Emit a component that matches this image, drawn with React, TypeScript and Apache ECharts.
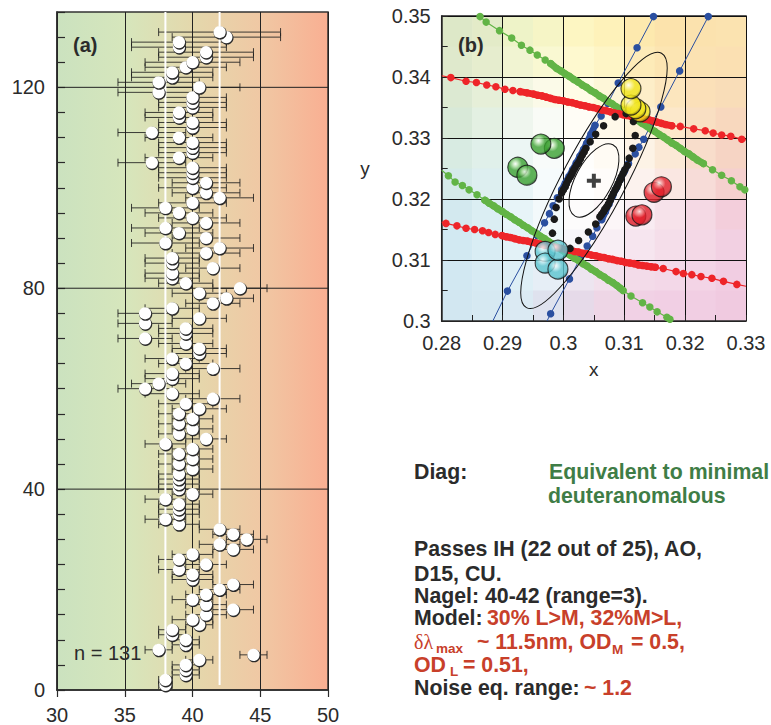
import React, { useEffect, useRef } from "react";
import * as echarts from "echarts";

const FONT = '"Liberation Sans", Arial, sans-serif';
const INK = "#2b2b2b";
const RED_TEXT = "#c8402a";
const GREEN_TEXT = "#3f7d46";

// ---------- panel (a) ----------
// rank 1..131 runs from the bottom row to the top row
const nagelMid = [
  38, 38, 39.5, 39.5, 39.5, 40.5, 44.5, 37.5, 39.5, 39.5,
  38.5, 38.5, 40.5, 40, 41, 43, 41, 40, 41, 42,
  43, 40, 40, 39, 41, 39, 40, 43, 42, 44,
  43, 42, 39, 38, 39, 39, 39, 38, 40, 39,
  39, 39, 39, 40, 39, 40, 39, 40, 38, 41,
  39, 40, 39, 40, 39, 40.5, 39.5, 41.5, 38.5, 36.5,
  37.5, 38.5, 38.5, 41.5, 39.5, 38.5, 40.5, 40.5, 39.5, 36.5,
  39.5, 39.5, 36.5, 40.5, 36.5, 38.5, 41.5, 42.5, 40.5, 43.5,
  39.5, 38.5, 38.5, 41.5, 38.5, 38.5, 41, 42, 38, 41,
  39, 38, 41, 40, 39, 38, 40, 42, 41, 40,
  41, 40, 40, 40, 37, 39, 40, 40, 40, 39,
  37, 40, 40, 39, 39, 40, 40, 40, 37.5, 40.5,
  37.5, 38.5, 38.5, 39.5, 40, 41, 41, 39, 39, 42.5, 42,
];
const nagelLow = [
  37.5, 37.5, 38.5, 38.5, 38.5, 39.5, 43.5, 36.5, 38.5, 38.5,
  37.5, 37.5, 39.5, 38.5, 39.5, 41.5, 39.5, 38.5, 39.5, 40.5,
  41.5, 38.5, 38.5, 37.5, 39.5, 37.5, 38.5, 41.5, 40.5, 42.5,
  41.5, 40.5, 37.5, 36.5, 37.5, 37.5, 37.5, 36.5, 38.5, 37.5,
  37.5, 37.5, 37.5, 38.5, 37.5, 38.5, 37.5, 38.5, 36.5, 39.5,
  37.5, 38.5, 37.5, 38.5, 37.5, 38.5, 37.5, 39.5, 36.5, 34.5,
  35.5, 36.5, 36.5, 39.5, 37.5, 36.5, 38.5, 38.5, 37.5, 34.5,
  37.5, 37.5, 34.5, 38.5, 34.5, 36.5, 39.5, 40.5, 38.5, 41.5,
  37.5, 36.5, 36.5, 39.5, 36.5, 36.5, 38.5, 39.5, 35.5, 38.5,
  36.5, 35.5, 38.5, 37.5, 36.5, 35.5, 37.5, 39.5, 38.5, 37.5,
  38.5, 37.5, 37.5, 37.5, 34.5, 36.5, 37.5, 37.5, 37.5, 36.5,
  34.5, 37.5, 37.5, 36.5, 36.5, 37.5, 37.5, 37.5, 34.5, 37.5,
  34.5, 35.5, 35.5, 36.5, 36.5, 37.5, 37.5, 35.5, 35.5, 38.5, 37.5,
];
const nagelHigh = [
  38.5, 38.5, 40.5, 40.5, 40.5, 41.5, 45.5, 38.5, 40.5, 40.5,
  39.5, 39.5, 41.5, 41.5, 42.5, 44.5, 42.5, 41.5, 42.5, 43.5,
  44.5, 41.5, 41.5, 40.5, 42.5, 40.5, 41.5, 44.5, 43.5, 45.5,
  44.5, 43.5, 40.5, 39.5, 40.5, 40.5, 40.5, 39.5, 41.5, 40.5,
  40.5, 40.5, 40.5, 41.5, 40.5, 41.5, 40.5, 41.5, 39.5, 42.5,
  40.5, 41.5, 40.5, 41.5, 40.5, 42.5, 41.5, 43.5, 40.5, 38.5,
  39.5, 40.5, 40.5, 43.5, 41.5, 40.5, 42.5, 42.5, 41.5, 38.5,
  41.5, 41.5, 38.5, 42.5, 38.5, 40.5, 43.5, 44.5, 42.5, 45.5,
  41.5, 40.5, 40.5, 43.5, 40.5, 40.5, 43.5, 44.5, 40.5, 43.5,
  41.5, 40.5, 43.5, 42.5, 41.5, 40.5, 42.5, 44.5, 43.5, 42.5,
  43.5, 42.5, 42.5, 42.5, 39.5, 41.5, 42.5, 42.5, 42.5, 41.5,
  39.5, 42.5, 42.5, 41.5, 41.5, 42.5, 42.5, 42.5, 40.5, 43.5,
  40.5, 41.5, 41.5, 42.5, 43.5, 44.5, 44.5, 42.5, 42.5, 46.5, 46.5,
];
const rowGridLines = [40, 80, 120];
const rowTickLabels = [0, 40, 80, 120];
const normalLimits = [
  [38, 0],
  [42, 1],
];

// ---------- panel (b) ----------
const bgColors = [
  ["#DDE8C8", "#E3EBC8", "#EEF3C8", "#F6F5C6", "#FDF6C2", "#FEF2BA", "#FDE9AE", "#FCE3AC", "#FBE2AE", "#FBE3B0"],
  ["#DFE9CC", "#E6EDCE", "#F1F4D2", "#F9F8D2", "#FEF9CF", "#FEF5C6", "#FDEBB8", "#FCE5B2", "#FBE2B2", "#FBE0B2"],
  ["#DCE9D2", "#E6EFD8", "#F2F6E2", "#FBFAE8", "#FFFCE6", "#FEF7D8", "#FDEEC8", "#FCE6BE", "#FBE0B8", "#F9DDB8"],
  ["#D8E9D8", "#E3F0E2", "#EFF6EE", "#F9FBF6", "#FFFDF6", "#FFF9EA", "#FDF1D8", "#FCE8CA", "#F9DFC2", "#F8D8BE"],
  ["#D8EBE2", "#E0F0EA", "#ECF6F4", "#F8FBFA", "#FFFEFC", "#FFFBF4", "#FDF3E6", "#FBE9D6", "#F8DDCB", "#F6D4C4"],
  ["#D5EAE9", "#DDEFF0", "#E9F5F7", "#F6FBFC", "#FFFFFF", "#FFFCFA", "#FCF2EE", "#FAE7E2", "#F7DCD8", "#F5D0CE"],
  ["#D3E9EF", "#DBEEF3", "#E7F4F8", "#F3F9FB", "#FDFCFC", "#FCF6F8", "#F9ECF2", "#F7E2EA", "#F5D9E4", "#F3CEDB"],
  ["#D2E9F2", "#D9EDF4", "#E3F2F7", "#EEF7FA", "#F7F6FA", "#F8EEF4", "#F6E5EF", "#F5DEEA", "#F4D8E6", "#F2D0E2"],
  ["#D2E8F2", "#D7EBF3", "#DEEFF6", "#E6EEF6", "#EDE5F0", "#F2E0EC", "#F3DBE9", "#F3D8E8", "#F3D4E6", "#F1CDE2"],
  ["#D2E7F1", "#D6E9F2", "#DBEAF3", "#DFE2EE", "#E6DAE9", "#EED6E6", "#F1D1E5", "#F1CFE4", "#F1CEE3", "#F0CAE0"],
];

const redUpper = [
  [0.28, 0.3402], [0.2815, 0.3399], [0.284, 0.3393], [0.2857, 0.3391], [0.2874, 0.3387], [0.2889, 0.3384], [0.2904, 0.338], [0.2917, 0.3378], [0.2929, 0.3376], [0.294, 0.3374],
  [0.2951, 0.3372], [0.2958, 0.337], [0.2965, 0.3369], [0.2972, 0.3367], [0.2979, 0.3365], [0.2986, 0.3363], [0.2993, 0.3362], [0.3, 0.3361], [0.3007, 0.3359], [0.3014, 0.3358],
  [0.3021, 0.3356], [0.3028, 0.3354], [0.3035, 0.3353], [0.3042, 0.3351], [0.3049, 0.335], [0.3056, 0.3348], [0.3063, 0.3346], [0.307, 0.3345], [0.3077, 0.3343], [0.3084, 0.3341],
  [0.3091, 0.334], [0.3098, 0.3338], [0.3105, 0.3337], [0.3112, 0.3335], [0.3119, 0.3334], [0.3126, 0.3333], [0.3133, 0.3331], [0.314, 0.333], [0.3147, 0.3328], [0.3154, 0.3326],
  [0.3161, 0.3324], [0.3168, 0.3322], [0.3178, 0.332], [0.3192, 0.3319], [0.3214, 0.3315], [0.3233, 0.3312], [0.3246, 0.3308], [0.326, 0.3305], [0.3275, 0.3303], [0.3293, 0.3298], [0.33, 0.3297],
];
const redLower = [
  [0.28, 0.3162], [0.2807, 0.316], [0.2825, 0.3156], [0.284, 0.3152], [0.2854, 0.315], [0.2867, 0.3148], [0.2877, 0.3145], [0.2888, 0.3142], [0.2899, 0.314], [0.2906, 0.3138],
  [0.2913, 0.3137], [0.292, 0.3135], [0.2927, 0.3133], [0.2934, 0.3132], [0.2941, 0.3131], [0.2948, 0.3129], [0.2955, 0.3128], [0.2962, 0.3126], [0.2969, 0.3124], [0.2976, 0.3123],
  [0.2983, 0.3122], [0.299, 0.312], [0.2997, 0.3119], [0.3004, 0.3117], [0.3011, 0.3116], [0.3018, 0.3114], [0.3025, 0.3113], [0.3032, 0.3111], [0.3039, 0.311], [0.3046, 0.3108],
  [0.3053, 0.3107], [0.306, 0.3105], [0.3067, 0.3104], [0.3074, 0.3102], [0.3081, 0.3101], [0.3088, 0.3099], [0.3095, 0.3098], [0.3102, 0.3096], [0.3109, 0.3095], [0.3116, 0.3094],
  [0.3123, 0.3092], [0.313, 0.3091], [0.3137, 0.309], [0.3144, 0.3089], [0.3151, 0.3088], [0.3164, 0.3086], [0.3185, 0.3081], [0.3197, 0.3078], [0.3211, 0.3076], [0.3226, 0.3073],
  [0.3244, 0.307], [0.3263, 0.3065], [0.3285, 0.306], [0.33, 0.3057],
];
const greenUpper = [
  [0.2863, 0.3499], [0.2873, 0.349], [0.2895, 0.3476], [0.2915, 0.3464], [0.2931, 0.3452], [0.2945, 0.3444], [0.2957, 0.3436], [0.297, 0.3428], [0.2979, 0.3422], [0.2989, 0.3414],
  [0.2996, 0.341], [0.3003, 0.3405], [0.301, 0.3401], [0.3017, 0.3396], [0.3024, 0.3392], [0.3031, 0.3387], [0.3038, 0.3383], [0.3045, 0.3378], [0.3052, 0.3374], [0.3059, 0.3369],
  [0.3066, 0.3365], [0.3073, 0.336], [0.308, 0.3356], [0.3087, 0.3351], [0.3094, 0.3347], [0.3101, 0.3342], [0.3108, 0.3338], [0.3115, 0.3333], [0.3122, 0.3329], [0.3129, 0.3324],
  [0.3136, 0.332], [0.3143, 0.3315], [0.315, 0.3311], [0.3157, 0.3306], [0.3164, 0.3302], [0.3171, 0.3297], [0.3178, 0.3292], [0.3185, 0.3288], [0.3192, 0.3283], [0.3199, 0.3278],
  [0.3206, 0.3274], [0.3213, 0.3269], [0.322, 0.3264], [0.323, 0.3258], [0.3245, 0.3248], [0.326, 0.3239], [0.3276, 0.323], [0.329, 0.322], [0.3298, 0.3215],
];
const greenLower = [
  [0.28, 0.3247], [0.2811, 0.3238], [0.2822, 0.3228], [0.2834, 0.3222], [0.2845, 0.3215], [0.2858, 0.3207], [0.2871, 0.3198], [0.2878, 0.3193], [0.2885, 0.3189], [0.2892, 0.3184],
  [0.2899, 0.318], [0.2906, 0.3175], [0.2913, 0.3171], [0.292, 0.3166], [0.2927, 0.3162], [0.2934, 0.3157], [0.2941, 0.3153], [0.2948, 0.3148], [0.2955, 0.3144], [0.2962, 0.3139],
  [0.2969, 0.3135], [0.2976, 0.313], [0.2983, 0.3126], [0.299, 0.3121], [0.2997, 0.3117], [0.3004, 0.3112], [0.3011, 0.3108], [0.3018, 0.3103], [0.3025, 0.3099], [0.3032, 0.3094],
  [0.3039, 0.309], [0.3046, 0.3085], [0.3053, 0.3081], [0.306, 0.3076], [0.3067, 0.3072], [0.3074, 0.3067], [0.3081, 0.3063], [0.3088, 0.3058], [0.3093, 0.3054], [0.3098, 0.305],
  [0.3111, 0.3041], [0.313, 0.303], [0.3142, 0.3023], [0.3154, 0.3015], [0.317, 0.3006], [0.3175, 0.3003],
];
const blueLeft = [
  [0.2884, 0.3], [0.2908, 0.3049], [0.294, 0.3107], [0.2957, 0.314], [0.2969, 0.3161], [0.2977, 0.3176], [0.2983, 0.3189], [0.299, 0.3202], [0.2997, 0.3215], [0.3003, 0.3226],
  [0.3009, 0.3237], [0.3015, 0.3248], [0.3021, 0.3259], [0.3027, 0.327], [0.3033, 0.3281], [0.3038, 0.3291], [0.3045, 0.3306], [0.3052, 0.3321], [0.3062, 0.3336], [0.3073, 0.3357], [0.309, 0.339], [0.3121, 0.3448], [0.3148, 0.3499],
];
const blueRight = [
  [0.2973, 0.3], [0.2979, 0.3012], [0.301, 0.3069], [0.3028, 0.3104], [0.3039, 0.3123], [0.3048, 0.3139], [0.3055, 0.3153], [0.3063, 0.3166], [0.3069, 0.3179], [0.3075, 0.3192],
  [0.3081, 0.3205], [0.3087, 0.3218], [0.3093, 0.3231], [0.31, 0.3245], [0.3107, 0.3258], [0.3118, 0.3274], [0.3124, 0.3285], [0.3132, 0.3298], [0.3143, 0.332], [0.316, 0.3351], [0.3191, 0.341], [0.3238, 0.3499],
];
const blackLeft = [
  [0.2982, 0.3144], [0.2985, 0.3167], [0.2988, 0.3186], [0.2993, 0.32], [0.2997, 0.321], [0.3, 0.3215], [0.3003, 0.322], [0.3005, 0.3225], [0.3008, 0.3231], [0.3011, 0.3236],
  [0.3014, 0.3241], [0.3016, 0.3246], [0.3019, 0.3251], [0.3022, 0.3256], [0.3025, 0.326], [0.3028, 0.3266], [0.3031, 0.3272], [0.3034, 0.3277], [0.3037, 0.3283], [0.3044, 0.3294],
  [0.3053, 0.3306], [0.3066, 0.332], [0.3085, 0.3335], [0.3103, 0.334],
];
const blackRight = [
  [0.3115, 0.3327], [0.3118, 0.3304], [0.3114, 0.3283], [0.3108, 0.3267], [0.3105, 0.3255], [0.3101, 0.3248],
  [0.3098, 0.3242], [0.3095, 0.3236], [0.3093, 0.3231], [0.309, 0.3225], [0.3088, 0.322], [0.3085, 0.3215], [0.3082, 0.3209], [0.3079, 0.3203], [0.3077, 0.3198], [0.3074, 0.3192],
  [0.3071, 0.3187], [0.3068, 0.3183], [0.3066, 0.3179], [0.3063, 0.3175], [0.306, 0.3171], [0.3053, 0.3159], [0.3041, 0.3146], [0.3025, 0.3132], [0.3011, 0.3119],
];
// centre x, centre y, semi-major, semi-minor (in chromaticity units), tilt from vertical (degrees)
const ellipses = [
  [0.305, 0.323, 0.02366, 0.00516, 28],
  [0.305, 0.323, 0.00664, 0.00302, 28],
];
const centerMark = [[0.305, 0.323]];
const yellowSpheres = [[0.3126, 0.3343], [0.3119, 0.3348], [0.3111, 0.3354], [0.3111, 0.3381]];
const greenSpheres = [[0.2985, 0.3283], [0.2963, 0.329], [0.2925, 0.3252], [0.294, 0.3239]];
const redSpheres = [[0.3149, 0.3211], [0.3161, 0.322], [0.3119, 0.3172], [0.3129, 0.3174]];
const cyanSpheres = [[0.297, 0.3114], [0.297, 0.3095], [0.2991, 0.3085], [0.2991, 0.3116]];

const sphere = (light: string, mid: string, dark: string) =>
  new echarts.graphic.RadialGradient(0.38, 0.33, 0.72, [
    { offset: 0, color: "#ffffff" },
    { offset: 0.16, color: light },
    { offset: 0.45, color: mid },
    { offset: 0.8, color: mid },
    { offset: 1, color: dark },
  ]);

const lineStroke = (a: number[], b: number[], stroke: string, lineWidth: number) => ({
  type: "line",
  shape: { x1: a[0], y1: a[1], x2: b[0], y2: b[1] },
  style: { stroke, lineWidth },
});

const dottedLine = (name: string, pts: number[][], color: string, size: number, z: number, lw = 1.2) => ({
  name,
  type: "line",
  xAxisIndex: 1,
  yAxisIndex: 1,
  z,
  data: pts.map((p, i) =>
    (i === 0 || i === pts.length - 1) && (p[0] === 0.28 || p[0] === 0.33 || p[1] === 0.3)
      ? { value: p, symbol: "none" }
      : { value: p }
  ),
  symbol: "circle",
  symbolSize: size,
  showSymbol: true,
  showAllSymbol: true,
  lineStyle: { color, width: lw },
  itemStyle: { color },
  silent: true,
});

// the stretch where the dots run together into a solid band
const band = (name: string, pts: number[][], from: number, to: number, color: string, width: number, z: number) => ({
  name,
  type: "line",
  xAxisIndex: 1,
  yAxisIndex: 1,
  z,
  symbol: "none",
  data: pts.slice(from, to),
  lineStyle: { color, width, cap: "round" },
  silent: true,
});

const sphereSeries = (name: string, pts: number[][], light: string, mid: string, dark: string) => ({
  name,
  type: "scatter",
  xAxisIndex: 1,
  yAxisIndex: 1,
  z: 10,
  symbol: "circle",
  symbolSize: 20,
  data: pts,
  itemStyle: { color: sphere(light, mid, dark), borderColor: "#161616", borderWidth: 1.1 },
  silent: true,
});

const txt = (text: string, x: number, y: number, fill: string, size = 21.3, weight = "bold", family = FONT) => ({
  type: "text",
  x,
  y,
  z: 50,
  silent: true,
  style: {
    text,
    fill,
    font: `${weight} ${size}px ${family}`,
    verticalAlign: "middle",
    align: "left",
    lineHeight: Math.round(size * 0.8),
  },
});

export default function App() {
  const ref = useRef<HTMLDivElement>(null);
  useEffect(() => {
    const chart = echarts.init(ref.current!, undefined, { renderer: "svg" });
    const axisText = { color: INK, fontSize: 20, fontFamily: FONT };
    const frame = { show: true, lineStyle: { color: "#2a2a2a", width: 1.5 } };
    const option: any = {
      animation: false,
      backgroundColor: "#ffffff",
      grid: [
        {
          left: 57,
          width: 271,
          top: 12,
          height: 678,
          outerBoundsMode: "none",
          show: true,
          borderColor: "#333",
          borderWidth: 1.5,
          backgroundColor: new echarts.graphic.LinearGradient(0, 0, 1, 0, [
            { offset: 0, color: "#cbe2bf" },
            { offset: 0.25, color: "#d6e6bc" },
            { offset: 0.5, color: "#e4d8ac" },
            { offset: 0.75, color: "#f0c8a4" },
            { offset: 1, color: "#f9af92" },
          ]),
        },
        { left: 441.7, width: 304.3, top: 16, height: 305, outerBoundsMode: "none", show: true, borderColor: "#222", borderWidth: 1.5 },
      ],
      xAxis: [
        {
          gridIndex: 0,
          type: "value",
          min: 30,
          max: 50,
          interval: 5,
          z: 2,
          axisLine: frame,
          axisTick: { show: true, length: 7, lineStyle: { color: "#2a2a2a", width: 1.2 } },
          axisLabel: { ...axisText, margin: 15 },
          splitLine: { show: true, lineStyle: { color: "#222", width: 1 } },
        },
        {
          gridIndex: 1,
          type: "value",
          min: 0.28,
          max: 0.33,
          interval: 0.01,
          z: 2,
          name: "x",
          nameLocation: "middle",
          nameGap: 39,
          nameTextStyle: { color: INK, fontSize: 19, fontFamily: FONT },
          axisLine: frame,
          axisTick: { show: true, inside: true, length: 6, lineStyle: { color: "#222" } },
          minorTick: { show: true, splitNumber: 2, length: 6, lineStyle: { color: "#222", width: 1 } },
          axisLabel: {
            ...axisText,
            margin: 12,
            formatter: (v: number) => String(Number(v.toFixed(2))),
          },
          splitLine: { show: true, lineStyle: { color: "#111", width: 1 } },
        },
      ],
      yAxis: [
        {
          gridIndex: 0,
          type: "value",
          min: 0,
          max: 135,
          interval: 5,
          z: 2,
          axisLine: frame,
          axisTick: { show: true, inside: true, length: 8, lineStyle: { color: "#2a2a2a", width: 1.2 } },
          axisLabel: {
            ...axisText,
            margin: 12,
            formatter: (v: number) => (rowTickLabels.includes(v) ? String(v) : ""),
          },
          splitLine: { show: false },
        },
        {
          gridIndex: 1,
          type: "value",
          min: 0.3,
          max: 0.35,
          interval: 0.01,
          z: 2,
          name: "y",
          nameLocation: "middle",
          nameGap: 72,
          nameRotate: 0,
          nameTextStyle: { color: INK, fontSize: 19, fontFamily: FONT },
          axisLine: frame,
          axisTick: { show: true, inside: true, length: 6, lineStyle: { color: "#222" } },
          minorTick: { show: true, splitNumber: 2, length: 6, lineStyle: { color: "#222", width: 1 } },
          axisLabel: {
            ...axisText,
            margin: 11,
            formatter: (v: number) => String(Number(v.toFixed(2))),
          },
          splitLine: { show: true, lineStyle: { color: "#111", width: 1 } },
        },
      ],
      series: [
        {
          name: "row grid",
          type: "custom",
          xAxisIndex: 0,
          yAxisIndex: 0,
          z: 3,
          silent: true,
          data: rowGridLines.map((v) => [v]),
          renderItem: (_: any, api: any) =>
            lineStroke(api.coord([30, api.value(0)]), api.coord([50, api.value(0)]), "#222", 1),
        },
        {
          name: "error bars",
          type: "custom",
          xAxisIndex: 0,
          yAxisIndex: 0,
          z: 4,
          silent: true,
          data: nagelMid.map((_, i) => [nagelLow[i], nagelHigh[i], i + 1]),
          renderItem: (_: any, api: any) => {
            const a = api.coord([api.value(0), api.value(2)]);
            const b = api.coord([api.value(1), api.value(2)]);
            const c = "rgba(30,30,30,0.85)";
            return {
              type: "group",
              children: [
                lineStroke(a, b, c, 1),
                lineStroke([a[0], a[1] - 4], [a[0], a[1] + 4], c, 1),
                lineStroke([b[0], b[1] - 4], [b[0], b[1] + 4], c, 1),
              ],
            };
          },
        },
        {
          name: "normal limits",
          type: "custom",
          xAxisIndex: 0,
          yAxisIndex: 0,
          z: 5,
          silent: true,
          data: normalLimits,
          renderItem: (_: any, api: any) =>
            lineStroke(api.coord([api.value(0), api.value(1)]), api.coord([api.value(0), 135]), "#ffffff", 2),
        },
        {
          name: "midpoints",
          type: "custom",
          xAxisIndex: 0,
          yAxisIndex: 0,
          z: 6,
          silent: true,
          data: nagelMid.map((v, i) => [v, i + 1]),
          renderItem: (_: any, api: any) => {
            const p = api.coord([api.value(0), api.value(1)]);
            return {
              type: "group",
              children: [
                { type: "circle", shape: { cx: p[0] + 0.6, cy: p[1] + 0.9, r: 6.6 }, style: { fill: "#2a2a2a" } },
                { type: "circle", shape: { cx: p[0], cy: p[1], r: 6.1 }, style: { fill: "#ffffff" } },
              ],
            };
          },
        },
        {
          name: "chromaticity background",
          type: "custom",
          xAxisIndex: 1,
          yAxisIndex: 1,
          z: 1,
          silent: true,
          data: bgColors.flatMap((row, r) => row.map((_, c) => [c, r])),
          renderItem: (_: any, api: any) => {
            const c = api.value(0);
            const r = api.value(1);
            const p0 = api.coord([0.28 + c * 0.005, 0.35 - r * 0.005]);
            const p1 = api.coord([0.28 + (c + 1) * 0.005, 0.35 - (r + 1) * 0.005]);
            return {
              type: "rect",
              shape: { x: p0[0], y: p0[1], width: p1[0] - p0[0] + 0.5, height: p1[1] - p0[1] + 0.5 },
              style: { fill: bgColors[r][c] },
            };
          },
        },
        dottedLine("blue left", blueLeft, "#2a4fa0", 7.5, 3, 1),
        dottedLine("blue right", blueRight, "#2a4fa0", 7.5, 3, 1),
        band("blue left band", blueLeft, 8, 18, "#2a4fa0", 6.5, 3),
        band("blue right band", blueRight, 7, 15, "#2a4fa0", 6.5, 3),
        dottedLine("green upper", greenUpper, "#62b446", 7.5, 4),
        dottedLine("green lower", greenLower, "#62b446", 7.5, 4),
        band("green upper band", greenUpper, 8, 44, "#62b446", 7, 4),
        band("green lower band", greenLower, 6, 40, "#62b446", 7, 4),
        dottedLine("red upper", redUpper, "#ee2529", 7.5, 5),
        dottedLine("red lower", redLower, "#ee2529", 7.5, 5),
        band("red upper band", redUpper, 8, 43, "#ee2529", 7, 5),
        band("red lower band", redLower, 8, 45, "#ee2529", 7, 5),
        {
          name: "black dots left",
          type: "line",
          lineStyle: { width: 0 },
          xAxisIndex: 1,
          yAxisIndex: 1,
          z: 7,
          symbol: "circle",
          symbolSize: 7.5,
          showAllSymbol: true,
          data: blackLeft,
          itemStyle: { color: "#1a1a1a" },
          silent: true,
        },
        {
          name: "black dots right",
          type: "line",
          lineStyle: { width: 0 },
          xAxisIndex: 1,
          yAxisIndex: 1,
          z: 7,
          symbol: "circle",
          symbolSize: 7.5,
          showAllSymbol: true,
          data: blackRight,
          itemStyle: { color: "#1a1a1a" },
          silent: true,
        },
        band("black left band", blackLeft, 4, 19, "#1a1a1a", 6.5, 7),
        band("black right band", blackRight, 5, 21, "#1a1a1a", 6.5, 7),
        {
          name: "confidence ellipses",
          type: "custom",
          xAxisIndex: 1,
          yAxisIndex: 1,
          z: 8,
          silent: true,
          data: ellipses,
          renderItem: (_: any, api: any) => {
            const c = api.coord([api.value(0), api.value(1)]);
            const s = api.size([api.value(2), api.value(3)]);
            return {
              type: "ellipse",
              shape: { cx: c[0], cy: c[1], rx: s[1], ry: s[0] },
              originX: c[0],
              originY: c[1],
              rotation: (-api.value(4) * Math.PI) / 180,
              style: { fill: "none", stroke: "#111", lineWidth: 1 },
            };
          },
        },
        {
          name: "center",
          type: "scatter",
          xAxisIndex: 1,
          yAxisIndex: 1,
          z: 9,
          symbol: "path://M5 0H9V5H14V9H9V14H5V9H0V5H5Z",
          symbolSize: 14,
          data: centerMark,
          itemStyle: { color: "#111" },
          silent: true,
        },
        sphereSeries("yellow", yellowSpheres, "#fbf6a0", "#f0e418", "#56520a"),
        sphereSeries("green", greenSpheres, "#bfe6b4", "#3aa030", "#0d4510"),
        sphereSeries("red", redSpheres, "#f6a8a8", "#e01d28", "#560a0f"),
        sphereSeries("cyan", cyanSpheres, "#c8eef2", "#5cc4cf", "#14606c"),
      ],
      graphic: [
        txt("(a)", 73, 45, INK, 20, "bold"),
        txt("(b)", 458, 45, INK, 20, "bold"),
        txt("n = 131", 74, 653, INK, 20, "normal"),
        txt("Diag:", 414, 472, INK),
        txt("Equivalent to minimal", 549, 472, GREEN_TEXT),
        txt("deuteranomalous", 548, 496, GREEN_TEXT),
        txt("Passes IH (22 out of 25), AO,", 414, 549, INK),
        txt("D15, CU.", 414, 574, INK),
        txt("Nagel: 40-42 (range=3).", 414, 596, INK),
        txt("Model:", 414, 618, INK),
        txt("30% L>M, 32%M>L,", 487, 618, RED_TEXT),
        txt("δλ", 414, 642, RED_TEXT, 20, "normal", '"Liberation Serif", serif'),
        txt("max", 436, 648, RED_TEXT, 13.5),
        txt("~ 11.5nm, OD", 477, 642, RED_TEXT),
        txt("M", 612, 649, RED_TEXT, 13.5),
        txt("= 0.5,", 631, 642, RED_TEXT),
        txt("OD", 414, 665, RED_TEXT),
        txt("L", 450, 671, RED_TEXT, 13.5),
        txt("= 0.51,", 463, 665, RED_TEXT),
        txt("Noise eq. range:", 414, 688, INK),
        txt("~ 1.2", 584, 688, RED_TEXT),
      ],
    };
    chart.setOption(option);
    return () => chart.dispose();
  }, []);
  return <div ref={ref} style={{ position: "absolute", left: 0, top: 0, width: 771, height: 725 }} />;
}
